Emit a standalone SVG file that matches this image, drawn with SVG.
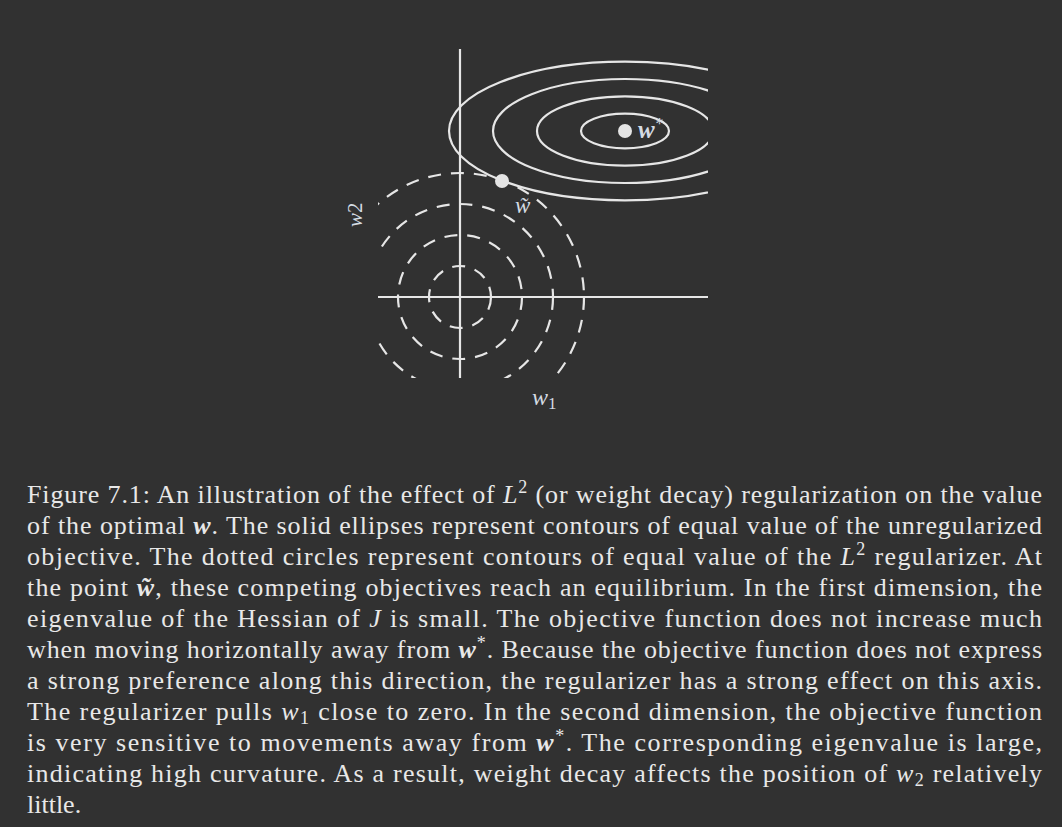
<svg xmlns="http://www.w3.org/2000/svg" width="1062" height="827" viewBox="0 0 1062 827">
<style>
.ax{stroke:#e6e6e6;stroke-width:2.2;fill:none}
.el{stroke:#e6e6e6;stroke-width:2.2;fill:none}
.dc{stroke:#e6e6e6;stroke-width:2.2;fill:none;stroke-dasharray:13 10}
.dot{fill:#e4e4e4}
.lbl{font-family:"Liberation Serif","DejaVu Serif",serif;fill:#d4dbe3;font-style:italic}
.cap{font-family:"Liberation Serif","DejaVu Serif",serif;font-size:26px;fill:#e8e8e8}
.m{font-style:italic}
.b{font-style:italic;font-weight:bold}
</style>
<defs>
<clipPath id="clipR"><rect x="0" y="0" width="708" height="827"/></clipPath>
<clipPath id="clipC"><rect x="378" y="0" width="330" height="378"/></clipPath>
</defs>
<rect width="1062" height="827" fill="#313131"/>
<g id="axes">
<line class="ax" x1="460" y1="49" x2="460" y2="378"/>
<line class="ax" x1="378" y1="297" x2="708" y2="297"/>
</g>
<g id="regularizer-circles" clip-path="url(#clipC)">
<circle class="dc" cx="460" cy="297" r="31"/>
<circle class="dc" cx="460" cy="297" r="62"/>
<circle class="dc" cx="460" cy="297" r="93"/>
<circle class="dc" cx="460" cy="297" r="124"/>
</g>
<g id="objective-ellipses" clip-path="url(#clipR)">
<ellipse class="el" cx="625" cy="131" rx="44" ry="17.3"/>
<ellipse class="el" cx="625" cy="131" rx="88" ry="34.6"/>
<ellipse class="el" cx="625" cy="131" rx="132" ry="52"/>
<ellipse class="el" cx="625" cy="131" rx="176" ry="69.3"/>
</g>
<g id="w-star">
<circle class="dot" cx="625" cy="131" r="7"/>
<text class="lbl" x="638" y="138" font-size="25" font-weight="bold" fill="#e8e8e8">w<tspan font-size="16" dy="-9" font-weight="normal">*</tspan></text>
</g>
<g id="w-tilde">
<circle class="dot" cx="502" cy="181" r="7"/>
<text class="lbl" x="515" y="213" font-size="23">w̃</text>
</g>
<g id="label-w1">
<text class="lbl" x="532" y="405" font-size="24">w<tspan font-size="17" dy="4" font-style="normal">1</tspan></text>
</g>
<g id="label-w2">
<text class="lbl" transform="translate(362,227) rotate(-90)" font-size="21">w<tspan font-style="normal">2</tspan></text>
</g>
<g id="caption">
<text class="cap" x="27" y="503" textLength="1015" lengthAdjust="spacing">Figure 7.1: An illustration of the effect of <tspan class="m">L</tspan><tspan font-size="18" dy="-10">2</tspan><tspan dy="10"> (or weight decay) regularization on the value</tspan></text>
<text class="cap" x="27" y="534" textLength="1015" lengthAdjust="spacing">of the optimal <tspan class="b">w</tspan>. The solid ellipses represent contours of equal value of the unregularized</text>
<text class="cap" x="27" y="565" textLength="1015" lengthAdjust="spacing">objective. The dotted circles represent contours of equal value of the <tspan class="m">L</tspan><tspan font-size="18" dy="-10">2</tspan><tspan dy="10"> regularizer. At</tspan></text>
<text class="cap" x="27" y="596" textLength="1015" lengthAdjust="spacing">the point <tspan class="b">w̃</tspan>, these competing objectives reach an equilibrium. In the first dimension, the</text>
<text class="cap" x="27" y="627" textLength="1015" lengthAdjust="spacing">eigenvalue of the Hessian of <tspan class="m">J</tspan> is small. The objective function does not increase much</text>
<text class="cap" x="27" y="658" textLength="1015" lengthAdjust="spacing">when moving horizontally away from <tspan class="b">w</tspan><tspan font-size="18" dy="-9">*</tspan><tspan dy="9">. Because the objective function does not express</tspan></text>
<text class="cap" x="27" y="689" textLength="1015" lengthAdjust="spacing">a strong preference along this direction, the regularizer has a strong effect on this axis.</text>
<text class="cap" x="27" y="720" textLength="1015" lengthAdjust="spacing">The regularizer pulls <tspan class="m">w</tspan><tspan font-size="18" dy="4">1</tspan><tspan dy="-4"> close to zero. In the second dimension, the objective function</tspan></text>
<text class="cap" x="27" y="751" textLength="1015" lengthAdjust="spacing">is very sensitive to movements away from <tspan class="b">w</tspan><tspan font-size="18" dy="-9">*</tspan><tspan dy="9">. The corresponding eigenvalue is large,</tspan></text>
<text class="cap" x="27" y="782" textLength="1015" lengthAdjust="spacing">indicating high curvature. As a result, weight decay affects the position of <tspan class="m">w</tspan><tspan font-size="18" dy="4">2</tspan><tspan dy="-4"> relatively</tspan></text>
<text class="cap" x="27" y="813">little.</text>
</g>
</svg>
